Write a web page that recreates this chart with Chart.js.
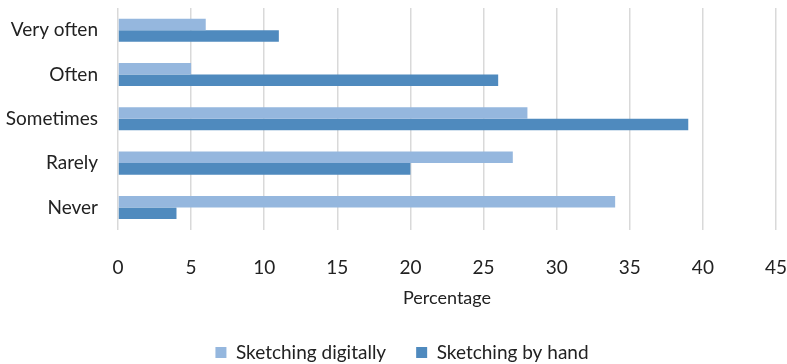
<!DOCTYPE html>
<html>
<head>
<meta charset="utf-8">
<script src="https://cdn.jsdelivr.net/npm/chart.js@4"></script>
<style>
  html, body { margin: 0; padding: 0; background: #fff; }
  #wrap { width: 787px; height: 364px; }
</style>
</head>
<body>
<div id="wrap"><canvas id="sketchChart"></canvas></div>
<script>
// Частота скетчинга: цифровой vs от руки
const categories = ['Very often', 'Often', 'Sometimes', 'Rarely', 'Never'];
const digitally = [6, 5, 28, 27, 34];
const byHand = [11, 26, 39, 20, 4];
const xTicks = [0, 5, 10, 15, 20, 25, 30, 35, 40, 45];

const font = 'Lato, "Open Sans", sans-serif';

// немного сдвигаем легенду вправо
const legendShift = {
  id: 'legendShift',
  afterLayout(chart) {
    const lg = chart.legend;
    if (lg) { lg.left += 14; lg.right += 14; }
  }
};

const ctx = document.getElementById('sketchChart');
const chart = new Chart(ctx.getContext('2d'), {
  type: 'bar',
  data: {
    labels: categories,
    datasets: [{
      label: 'Sketching digitally',
      data: digitally,
      backgroundColor: '#95b7de'
    }, {
      label: 'Sketching by hand',
      data: byHand,
      backgroundColor: '#4f8abe'
    }]
  },
  options: {
    indexAxis: 'y',
    responsive: true,
    maintainAspectRatio: false,
    animation: false,
    layout: { padding: { top: 8, right: 11, left: 0, bottom: -8 } },
    datasets: {
      bar: { barPercentage: 1, categoryPercentage: 0.52 }
    },
    scales: {
      x: {
        min: 0,
        max: 45,
        afterBuildTicks: s => { s.ticks = xTicks.map(v => ({ value: v })); },
        afterFit: s => { s.paddingLeft = 0; s.paddingRight = 0; },
        grid: { color: '#d9d9d9', lineWidth: 1.5, drawTicks: false },
        border: { display: false },
        ticks: { color: '#222', padding: 27, font: { family: font, size: 19 } },
        title: {
          display: true,
          text: 'Percentage',
          color: '#222',
          padding: { top: -19, bottom: 4 },
          font: { family: font, size: 18 }
        }
      },
      y: {
        afterFit: s => { s.width = 118; s.paddingTop = 0; s.paddingBottom = 0; },
        grid: { display: false, drawTicks: false },
        border: { display: false },
        ticks: { color: '#222', padding: 20, font: { family: font, size: 19 } }
      }
    },
    plugins: {
      legend: {
        position: 'bottom',
        labels: {
          color: '#222',
          boxWidth: 11,
          boxHeight: 11,
          padding: 30,
          font: { family: font, size: 19 }
        }
      },
      tooltip: { enabled: false }
    }
  },
  plugins: [legendShift]
});
</script>
</body>
</html>
